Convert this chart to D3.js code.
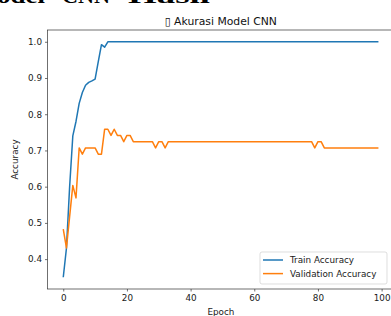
<!DOCTYPE html>
<html>
<head>
<meta charset="utf-8">
<script src="https://cdn.jsdelivr.net/npm/d3@7"></script>
<style>
  body { margin: 0; background: #fff; }
  svg { display: block; font-family: "DejaVu Sans", sans-serif; }
</style>
</head>
<body>
<div id="chart"></div>
<script>
// values (accuracy per epoch)
var trainHead = [0.35, 0.43, 0.60, 0.74, 0.78, 0.83, 0.86, 0.88, 0.888, 0.892, 0.897, 0.945, 0.992, 0.985];
var trainTail = 1.0;               // epochs 14..99 stay at 1.0
var valHead = [0.4828, 0.4310, 0.5172, 0.6034, 0.5690, 0.7069, 0.6897, 0.7069, 0.7069, 0.7069,
               0.7069, 0.6897, 0.6897, 0.7586, 0.7586, 0.7414, 0.7586, 0.7414, 0.7414, 0.7241,
               0.7414, 0.7414, 0.7241, 0.7241, 0.7241, 0.7241, 0.7241, 0.7241, 0.7241, 0.7069,
               0.7241, 0.7241, 0.7069];
var valMid = 0.7241;               // epochs 33..78
var valLate = [0.7069, 0.7241, 0.7241];   // epochs 79..81
var valTail = 0.7069;              // epochs 82..99
var nEpochs = 100;
var xTicks = [0, 20, 40, 60, 80, 100];
var yTicks = [0.4, 0.5, 0.6, 0.7, 0.8, 0.9, 1.0];
var seriesNames = ["Train Accuracy", "Validation Accuracy"];
var seriesColors = ["#1f77b4", "#ff7f0e"];
// words of the page text cut off above the figure
var headWords = ["odel", "CNN", "Hasil"];

var train = [], val = [];
for (var i = 0; i < nEpochs; i++) {
  train.push(i < trainHead.length ? trainHead[i] : trainTail);
  var v;
  if (i < valHead.length) v = valHead[i];
  else if (i < 79) v = valMid;
  else if (i < 82) v = valLate[i - 79];
  else v = valTail;
  val.push(v);
}

var width = 391, height = 316;
var plotL = 47.5, plotR = 394.2, plotT = 30, plotB = 289;

var svg = d3.select('#chart').append('svg')
  .attr('width', width)
  .attr('height', height);

// cut-off document text at the very top
svg.selectAll('text.head')
  .data(headWords)
  .enter()
  .append('text')
    .attr('class', 'head')
    .attr('x', function(d, i) { return [-3, 62, 128][i]; })
    .attr('y', 3)
    .attr('textLength', function(d, i) { return [48, 48, 82][i]; })
    .attr('lengthAdjust', 'spacingAndGlyphs')
    .style('font-family', '"Liberation Serif", serif')
    .style('font-weight', 'bold')
    .style('font-size', '21px')
    .text(function(d) { return d; });

var xPad = (nEpochs - 1) * 0.05;
var x = d3.scaleLinear().domain([-xPad, nEpochs - 1 + xPad]).range([plotL, plotR]);
var all = train.concat(val);
var lo = d3.min(all), hi = d3.max(all), yPad = (hi - lo) * 0.05;
var y = d3.scaleLinear().domain([lo - yPad, hi + yPad]).range([plotB, plotT]);

var g = svg.append('g');

var xAxis = g.append('g')
  .attr('transform', 'translate(0,' + plotB + ')')
  .call(d3.axisBottom(x).tickValues(xTicks).tickSize(2.5).tickPadding(3).tickFormat(d3.format('d')));
var yAxis = g.append('g')
  .attr('transform', 'translate(' + plotL + ',0)')
  .call(d3.axisLeft(y).tickValues(yTicks).tickSize(2.5).tickPadding(3).tickFormat(d3.format('.1f')));

[xAxis, yAxis].forEach(function(a) {
  a.select('.domain').remove();
  a.selectAll('line').attr('stroke', '#333').attr('stroke-width', 0.7);
  a.selectAll('text').style('font-size', '8.8px').style('font-family', '"DejaVu Sans", sans-serif').attr('fill', '#1a1a1a');
});

// frame
g.append('rect')
  .attr('x', plotL).attr('y', plotT)
  .attr('width', plotR - plotL).attr('height', plotB - plotT)
  .attr('fill', 'none')
  .attr('stroke', '#333')
  .attr('stroke-width', 0.7);

var line = d3.line()
  .x(function(d, i) { return x(i); })
  .y(function(d) { return y(d); });

[train, val].forEach(function(s, k) {
  g.append('path')
    .datum(s)
    .attr('d', line)
    .attr('fill', 'none')
    .attr('stroke', seriesColors[k])
    .attr('stroke-width', 1.5)
    .attr('stroke-linejoin', 'round');
});

// title
svg.append('text')
  .attr('x', (plotL + plotR) / 2).attr('y', 25)
  .style('text-anchor', 'middle')
  .style('font-size', '10.8px')
  .attr('fill', '#111')
  .text('\u25AF Akurasi Model CNN');

// axis labels
svg.append('text')
  .attr('transform', 'translate(18,' + ((plotT + plotB) / 2) + ') rotate(-90)')
  .style('text-anchor', 'middle')
  .style('font-size', '8.8px')
  .attr('fill', '#1a1a1a')
  .text('Accuracy');
svg.append('text')
  .attr('x', (plotL + plotR) / 2).attr('y', 315)
  .style('text-anchor', 'middle')
  .style('font-size', '8.8px')
  .attr('fill', '#1a1a1a')
  .text('Epoch');

// legend
var lg = svg.append('g').attr('transform', 'translate(260,252)');
lg.append('rect')
  .attr('width', 127).attr('height', 32)
  .attr('rx', 2)
  .attr('fill', 'white').attr('fill-opacity', 0.8)
  .attr('stroke', '#d0d0d0').attr('stroke-width', 0.7);
seriesNames.forEach(function(name, k) {
  var yy = 8 + k * 13.6;
  lg.append('line')
    .attr('x1', 3).attr('x2', 23).attr('y1', yy).attr('y2', yy)
    .attr('stroke', seriesColors[k]).attr('stroke-width', 1.5);
  lg.append('text')
    .attr('x', 30).attr('y', yy + 3)
    .style('font-size', '8.8px')
    .attr('fill', '#1a1a1a')
    .text(name);
});
</script>
</body>
</html>
